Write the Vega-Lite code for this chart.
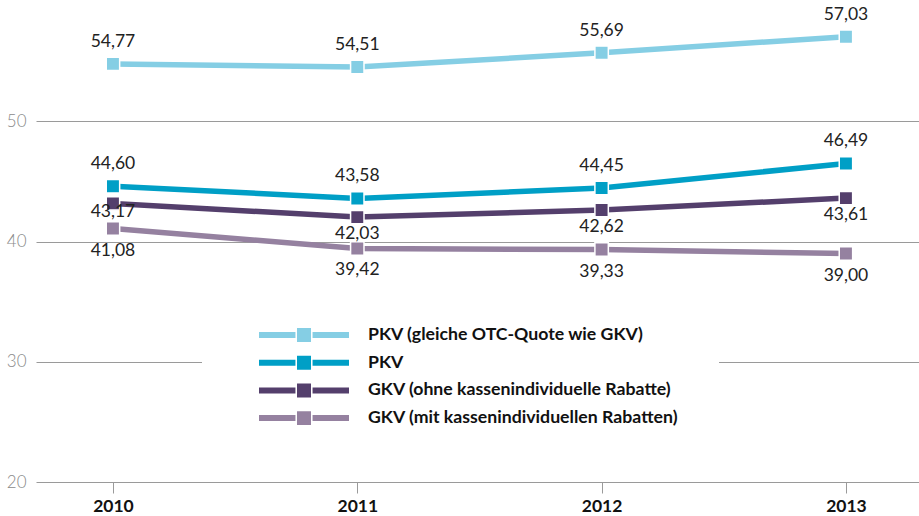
{
  "$schema": "https://vega.github.io/schema/vega-lite/v6.json",
  "width": 883,
  "height": 481,
  "autosize": "none",
  "padding": {"left": 36, "top": 1, "right": 0, "bottom": 34},
  "background": "white",
  "config": {
    "view": {"stroke": null},
    "locale": {"number": {"decimal": ",", "thousands": ".", "grouping": [3], "currency": ["", " €"]}},
    "font": "Lato"
  },
  "data": {
    "values": [
      {"series": "PKV (gleiche OTC-Quote wie GKV)", "year": "2010", "value": 54.77},
      {"series": "PKV (gleiche OTC-Quote wie GKV)", "year": "2011", "value": 54.51},
      {"series": "PKV (gleiche OTC-Quote wie GKV)", "year": "2012", "value": 55.69},
      {"series": "PKV (gleiche OTC-Quote wie GKV)", "year": "2013", "value": 57.03},
      {"series": "PKV", "year": "2010", "value": 44.60},
      {"series": "PKV", "year": "2011", "value": 43.58},
      {"series": "PKV", "year": "2012", "value": 44.45},
      {"series": "PKV", "year": "2013", "value": 46.49},
      {"series": "GKV (ohne kassenindividuelle Rabatte)", "year": "2010", "value": 43.17},
      {"series": "GKV (ohne kassenindividuelle Rabatte)", "year": "2011", "value": 42.03},
      {"series": "GKV (ohne kassenindividuelle Rabatte)", "year": "2012", "value": 42.62},
      {"series": "GKV (ohne kassenindividuelle Rabatte)", "year": "2013", "value": 43.61},
      {"series": "GKV (mit kassenindividuellen Rabatten)", "year": "2010", "value": 41.08},
      {"series": "GKV (mit kassenindividuellen Rabatten)", "year": "2011", "value": 39.42},
      {"series": "GKV (mit kassenindividuellen Rabatten)", "year": "2012", "value": 39.33},
      {"series": "GKV (mit kassenindividuellen Rabatten)", "year": "2013", "value": 39.00}
    ]
  },
  "encoding": {
    "x": {
      "field": "year", "type": "ordinal",
      "scale": {"type": "point", "padding": 0.307, "align": 0.513},
      "axis": {
        "title": null, "labelAngle": 0, "domain": false, "grid": false,
        "ticks": true, "tickSize": 11, "tickColor": "#9a9a9a", "tickWidth": 1,
        "labelFont": "Lato", "labelFontWeight": "bold", "labelFontSize": 17.5,
        "labelColor": "#111", "labelPadding": 4
      }
    },
    "y": {
      "field": "value", "type": "quantitative",
      "scale": {"domain": [20, 60], "nice": false, "zero": false},
      "axis": {
        "title": null, "values": [20, 30, 40, 50], "domain": false, "ticks": false,
        "grid": true, "gridColor": "#9a9a9a", "gridWidth": 1,
        "labelFont": "Lato", "labelFontSize": 17, "labelColor": "#8a8a8a",
        "labelPadding": 10, "labelFontWeight": 300
      }
    },
    "color": {
      "field": "series", "type": "nominal",
      "scale": {
        "domain": ["PKV (gleiche OTC-Quote wie GKV)", "PKV", "GKV (ohne kassenindividuelle Rabatte)", "GKV (mit kassenindividuellen Rabatten)"],
        "range": ["#85cee4", "#009fc6", "#543f6c", "#9581a0"]
      },
      "legend": {
        "title": " ",
        "titleOrient": "left",
        "titleFontSize": 4,
        "titlePadding": 17,
        "orient": "none",
        "legendX": 166,
        "legendY": 284,
        "padding": 40,
        "fillColor": "white",
        "symbolType": "M-1,-0.067L-0.19,-0.067L-0.19,0.067L-1,0.067ZM-0.155,-0.155L0.155,-0.155L0.155,0.155L-0.155,0.155ZM0.19,-0.067L1,-0.067L1,0.067L0.19,0.067Z",
        "symbolSize": 8100,
        "symbolStrokeWidth": 0,
        "symbolOpacity": 1,
        "clipHeight": 20,
        "rowPadding": 7.7,
        "labelFont": "Lato",
        "labelFontWeight": "bold",
        "labelFontSize": 17.7,
        "labelColor": "#111",
        "labelOffset": 19,
        "labelLimit": 500,
        "encode": {
          "symbols": {
            "update": {
              "fill": {"scale": "color", "field": "value"},
              "stroke": {"value": "transparent"},
              "opacity": {"value": 1}
            }
          }
        }
      }
    }
  },
  "layer": [
    {"mark": {"type": "line", "strokeWidth": 5.5}},
    {"mark": {"type": "point", "shape": "square", "filled": true, "size": 180, "opacity": 1, "stroke": "white", "strokeWidth": 1.5}},
    {
      "transform": [{"filter": "datum.series === 'PKV (gleiche OTC-Quote wie GKV)' || datum.series === 'PKV'"}],
      "mark": {"type": "text", "dy": -22, "fontSize": 17.5, "font": "Lato", "baseline": "middle"},
      "encoding": {"text": {"field": "value", "type": "quantitative", "format": ".2f"}, "color": {"value": "#222"}}
    },
    {
      "transform": [{"filter": "datum.series === 'GKV (ohne kassenindividuelle Rabatte)' && datum.year !== '2010'"}],
      "mark": {"type": "text", "dy": 17, "fontSize": 17.5, "font": "Lato", "baseline": "middle"},
      "encoding": {"text": {"field": "value", "type": "quantitative", "format": ".2f"}, "color": {"value": "#222"}}
    },
    {
      "transform": [{"filter": "datum.series === 'GKV (ohne kassenindividuelle Rabatte)' && datum.year === '2010'"}],
      "mark": {"type": "text", "dy": 9, "fontSize": 17.5, "font": "Lato", "baseline": "middle"},
      "encoding": {"text": {"field": "value", "type": "quantitative", "format": ".2f"}, "color": {"value": "#222"}}
    },
    {
      "transform": [{"filter": "datum.series === 'GKV (mit kassenindividuellen Rabatten)'"}],
      "mark": {"type": "text", "dy": 22, "fontSize": 17.5, "font": "Lato", "baseline": "middle"},
      "encoding": {"text": {"field": "value", "type": "quantitative", "format": ".2f"}, "color": {"value": "#222"}}
    }
  ]
}
